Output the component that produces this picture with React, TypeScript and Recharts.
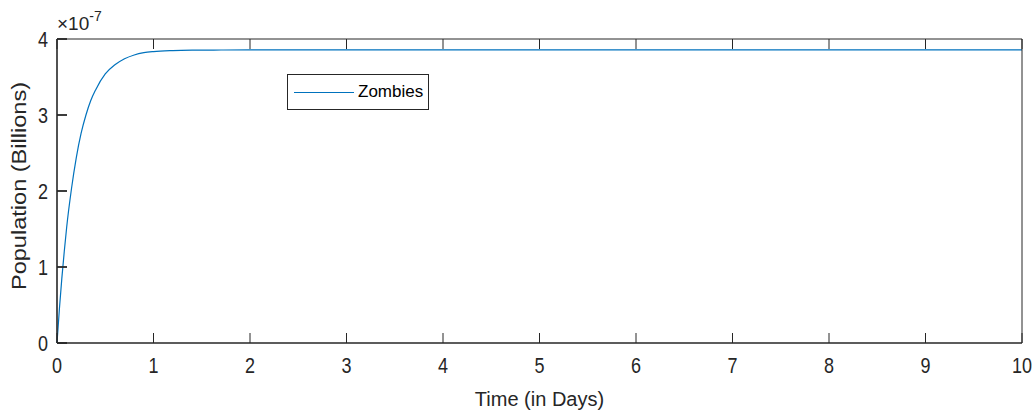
import React from 'react';
import { LineChart, Line, XAxis, YAxis, Legend } from 'recharts';

const times = [0, 0.025, 0.05, 0.075, 0.1, 0.15, 0.2, 0.25, 0.3, 0.35, 0.4, 0.5, 0.6, 0.7, 0.8, 0.9, 1.0, 1.2, 1.4, 1.7, 2, 3, 4, 5, 6, 7, 8, 9, 10];
const zombies = [0, 0.45, 0.85, 1.2, 1.52, 2.03, 2.44, 2.76, 3.0, 3.19, 3.33, 3.54, 3.66, 3.74, 3.79, 3.82, 3.835, 3.848, 3.853, 3.855, 3.856, 3.856, 3.856, 3.856, 3.856, 3.856, 3.856, 3.856, 3.856];
const xTicks = [0, 1, 2, 3, 4, 5, 6, 7, 8, 9, 10];
const yTicks = [0, 1, 2, 3, 4];
const seriesName = 'Zombies';
const xLabel = 'Time (in Days)';
const yLabel = 'Population (Billions)';
const exponentBase = '×10';
const exponent = '-7';

const data = times.map((t, i) => ({ t, z: zombies[i] }));

const AXIS = '#262626';
const FONT = '"Liberation Sans", Arial, Helvetica, sans-serif';
const TL = 10;

const BottomTick = (p: any) => (
  <g>
    <line x1={p.x} y1={p.y} x2={p.x} y2={p.y - TL} stroke={AXIS} strokeWidth={1} />
    <text
      transform={`translate(${p.x}, ${p.y + 30}) scale(1, 1.2)`}
      textAnchor="middle"
      fill={AXIS}
      fontSize={18}
      fontFamily={FONT}
    >
      {p.payload.value}
    </text>
  </g>
);
const TopTick = (p: any) => (
  <line x1={p.x} y1={p.y} x2={p.x} y2={p.y + TL} stroke={AXIS} strokeWidth={1} />
);
const LeftTick = (p: any) => (
  <g>
    <line x1={p.x} y1={p.y} x2={p.x + TL} y2={p.y} stroke={AXIS} strokeWidth={1.8} />
    <text
      transform={`translate(${p.x - 9}, ${p.y + 7.8}) scale(1, 1.2)`}
      textAnchor="end"
      fill={AXIS}
      fontSize={18}
      fontFamily={FONT}
    >
      {p.payload.value}
    </text>
  </g>
);
const RightTick = (p: any) => (
  <line x1={p.x} y1={p.y} x2={p.x - TL} y2={p.y} stroke={AXIS} strokeWidth={1} />
);

const YLabel = (p: any) => {
  const vb = p.viewBox || { x: 0, y: 38, width: 57, height: 305 };
  const cx = vb.x + 26;
  const cy = vb.y + vb.height / 2 - 5;
  return (
    <text
      transform={`translate(${cx}, ${cy}) rotate(-90)`}
      textAnchor="middle"
      fill={AXIS}
      fontSize={20}
      fontFamily={FONT}
      textLength={208}
      lengthAdjust="spacingAndGlyphs"
    >
      {yLabel}
    </text>
  );
};

const LegendBox = () => (
  <div
    style={{
      width: 140,
      height: 34,
      border: `1px solid ${AXIS}`,
      background: '#fff',
      display: 'flex',
      alignItems: 'center',
      fontFamily: FONT,
      fontSize: 17,
      color: '#000',
      boxSizing: 'content-box',
    }}
  >
    <div style={{ width: 60, height: 0, borderTop: '1.2px solid #0072BD', marginLeft: 6, marginRight: 4 }} />
    <span>{seriesName}</span>
  </div>
);

export default function App() {
  return (
    <div style={{ position: 'absolute', left: 0, top: 0, width: 1034, height: 410, background: '#fff' }}>
      <LineChart width={1034} height={410} data={data} margin={{ top: 38, right: 11, bottom: 0, left: 0 }}>
        <XAxis
          dataKey="t"
          type="number"
          domain={[0, 10]}
          ticks={xTicks}
          height={67}
          tickSize={0}
          tickMargin={0}
          tickLine={false}
          axisLine={{ stroke: AXIS, strokeWidth: 1.6 }}
          tick={BottomTick}
          interval={0}
          label={{ value: xLabel, position: 'insideBottom', offset: 4, fill: AXIS, fontSize: 20, fontFamily: FONT }}
        />
        <XAxis
          xAxisId="top"
          orientation="top"
          dataKey="t"
          type="number"
          domain={[0, 10]}
          ticks={xTicks}
          height={1}
          tickSize={0}
          tickMargin={0}
          tickLine={false}
          axisLine={{ stroke: AXIS, strokeWidth: 1 }}
          tick={TopTick}
          interval={0}
        />
        <YAxis
          type="number"
          domain={[0, 4]}
          ticks={yTicks}
          width={57}
          tickSize={0}
          tickMargin={0}
          tickLine={false}
          axisLine={{ stroke: AXIS, strokeWidth: 1.6 }}
          tick={LeftTick}
          interval={0}
          label={<YLabel />}
        />
        <YAxis
          yAxisId="right"
          orientation="right"
          type="number"
          domain={[0, 4]}
          ticks={yTicks}
          width={1}
          tickSize={0}
          tickMargin={0}
          tickLine={false}
          axisLine={{ stroke: AXIS, strokeWidth: 1 }}
          tick={RightTick}
          interval={0}
        />
        <Line
          type="monotone"
          dataKey="z"
          name={seriesName}
          stroke="#0072BD"
          strokeWidth={1.2}
          dot={false}
          activeDot={false}
          isAnimationActive={false}
        />
        <Legend
          layout="horizontal"
          verticalAlign="middle"
          align="center"
          content={LegendBox}
          wrapperStyle={{ position: 'absolute', left: 287, top: 74, width: 'auto', height: 'auto' }}
        />
      </LineChart>
      <div
        style={{
          position: 'absolute',
          left: 57,
          top: 13,
          fontFamily: FONT,
          fontSize: 19,
          color: AXIS,
          lineHeight: '22px',
          whiteSpace: 'nowrap',
        }}
      >
        {exponentBase}
        <sup style={{ fontSize: 14, verticalAlign: 'top', position: 'relative', top: -8 }}>{exponent}</sup>
      </div>
    </div>
  );
}
